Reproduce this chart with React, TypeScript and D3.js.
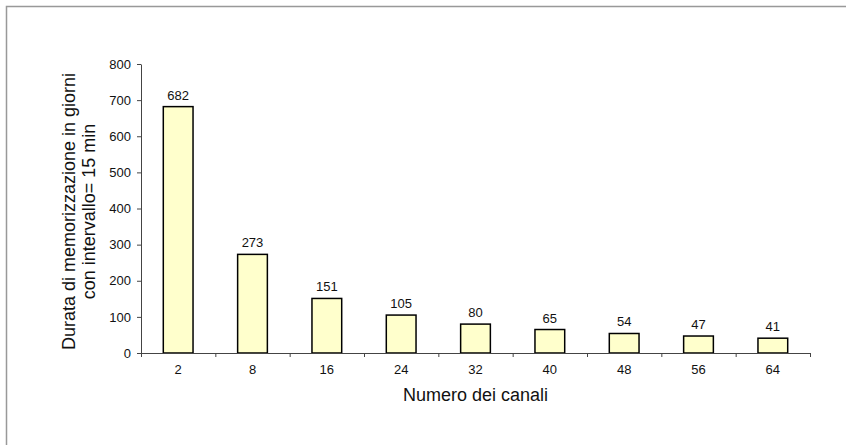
import { useEffect, useRef } from 'react';
import * as d3 from 'd3';

// numero dei canali e durata di memorizzazione (giorni)
const channels: string[] = ['2', '8', '16', '24', '32', '40', '48', '56', '64'];
const days: number[] = [682, 273, 151, 105, 80, 65, 54, 47, 41];
const yTicks: number[] = [0, 100, 200, 300, 400, 500, 600, 700, 800];

const yTitle: string[] = ['Durata di memorizzazione in giorni', 'con intervallo= 15 min'];
const xTitle = 'Numero dei canali';

const W = 846;
const H = 445;
const FONT = '"Liberation Sans", Arial, sans-serif';

const BarChart = () => {
    const ref = useRef<SVGSVGElement | null>(null);

    useEffect(() => {
        const margin = { top: 64, right: 36, bottom: 92, left: 141 };
        const width = W - margin.left - margin.right;
        const height = H - margin.top - margin.bottom;

        const root = d3.select(ref.current);
        root.selectAll('*').remove();

        // cornice grigia (tagliata a destra e in basso)
        root.append('rect')
            .attr('x', 6.5)
            .attr('y', 6.5)
            .attr('width', W + 20)
            .attr('height', H + 20)
            .attr('fill', 'none')
            .attr('stroke', '#999')
            .attr('stroke-width', 1.5);

        const svg = root.append('g')
            .attr('transform', `translate(${margin.left},${margin.top})`);

        const x = d3.scaleBand<string>()
            .domain(channels)
            .range([0, width])
            .paddingInner(0.6)
            .paddingOuter(0.3);
        const y = d3.scaleLinear().domain([0, 800]).range([height, 0]);

        // asse y
        const yAxis = svg.append('g')
            .call(d3.axisLeft(y).tickValues(yTicks).tickSize(4).tickSizeOuter(0).tickPadding(6));
        yAxis.select('.domain').attr('stroke', '#444');
        yAxis.selectAll('.tick line').attr('stroke', '#444');
        yAxis.selectAll('.tick text')
            .attr('font-family', FONT)
            .attr('font-size', 13)
            .attr('fill', '#111');

        // barre
        svg.selectAll('rect.bar')
            .data(days)
            .join('rect')
            .attr('class', 'bar')
            .attr('x', (d, i) => x(channels[i]) as number)
            .attr('y', d => y(d))
            .attr('width', x.bandwidth())
            .attr('height', d => height - y(d))
            .attr('fill', '#FFFFCC')
            .attr('stroke', '#000')
            .attr('stroke-width', 1.5);

        // etichette dei valori
        svg.selectAll('text.val')
            .data(days)
            .join('text')
            .attr('class', 'val')
            .attr('x', (d, i) => (x(channels[i]) as number) + x.bandwidth() / 2)
            .attr('y', d => y(d) - 7)
            .attr('text-anchor', 'middle')
            .attr('font-family', FONT)
            .attr('font-size', 13)
            .attr('fill', '#111')
            .text(d => d);

        // asse x: tacche ai bordi delle categorie
        const step = x.step();
        svg.append('line')
            .attr('x1', 0)
            .attr('x2', width)
            .attr('y1', height + 0.5)
            .attr('y2', height + 0.5)
            .attr('stroke', '#444');
        svg.selectAll('line.xtick')
            .data(d3.range(channels.length + 1))
            .join('line')
            .attr('class', 'xtick')
            .attr('x1', i => i * step + 0.5)
            .attr('x2', i => i * step + 0.5)
            .attr('y1', height)
            .attr('y2', height + 4)
            .attr('stroke', '#444');
        svg.selectAll('text.xlab')
            .data(channels)
            .join('text')
            .attr('class', 'xlab')
            .attr('x', d => (x(d) as number) + x.bandwidth() / 2)
            .attr('y', height + 21)
            .attr('text-anchor', 'middle')
            .attr('font-family', FONT)
            .attr('font-size', 13)
            .attr('fill', '#111')
            .text(d => d);

        // titoli
        svg.append('text')
            .attr('x', width / 2)
            .attr('y', height + 48)
            .attr('text-anchor', 'middle')
            .attr('font-family', FONT)
            .attr('font-size', 18)
            .attr('fill', '#111')
            .text(xTitle);

        const yt = root.append('text')
            .attr('transform', `translate(0,${margin.top + height / 2 + 3}) rotate(-90)`)
            .attr('text-anchor', 'middle')
            .attr('font-family', FONT)
            .attr('font-size', 18)
            .attr('fill', '#111');
        yt.selectAll('tspan')
            .data(yTitle)
            .join('tspan')
            .attr('x', 0)
            .attr('y', (d, i) => 75 + i * 20)
            .text(d => d);
    }, []);

    return <svg ref={ref} width={W} height={H} style={{ position: 'absolute', left: 0, top: 0 }}></svg>;
};

export default function App() {
    return <BarChart />;
}
